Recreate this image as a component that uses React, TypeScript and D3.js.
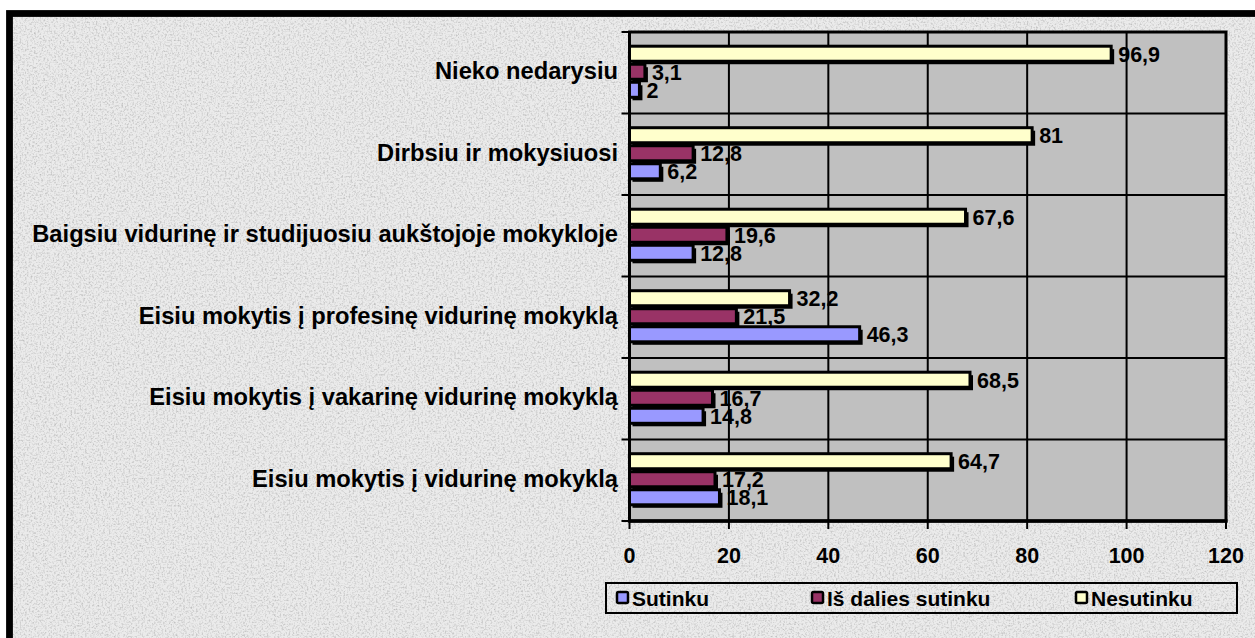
import React from "react";
import * as d3 from "d3";

const categories = [
  "Nieko nedarysiu",
  "Dirbsiu ir mokysiuosi",
  "Baigsiu vidurinę ir studijuosiu aukštojoje mokykloje",
  "Eisiu mokytis į profesinę vidurinę mokyklą",
  "Eisiu mokytis į vakarinę vidurinę mokyklą",
  "Eisiu mokytis į vidurinę mokyklą",
];
const sutinku = [2, 6.2, 12.8, 46.3, 14.8, 18.1];
const isDaliesSutinku = [3.1, 12.8, 19.6, 21.5, 16.7, 17.2];
const nesutinku = [96.9, 81, 67.6, 32.2, 68.5, 64.7];
const seriesNames = ["Sutinku", "Iš dalies sutinku", "Nesutinku"];
const seriesColors = ["#9999ff", "#993366", "#ffffcc"];
const xTicks = [0, 20, 40, 60, 80, 100, 120];

const W = 1255;
const H = 638;
const FONT = "'Liberation Sans', Arial, sans-serif";

export default function App() {
  const plot = { left: 629.5, right: 1226, top: 32, bottom: 521 };
  const x = d3.scaleLinear().domain([0, 120]).range([plot.left, plot.right]);
  const y = d3.scaleBand<string>().domain(categories).range([plot.top, plot.bottom]).padding(0);
  const drawOrder = ["Nesutinku", "Iš dalies sutinku", "Sutinku"];
  const inner = d3
    .scaleBand<string>()
    .domain(drawOrder)
    .range([0, y.bandwidth()])
    .paddingInner(0)
    .paddingOuter(0.76);
  const seriesValues: Record<string, number[]> = {
    Sutinku: sutinku,
    "Iš dalies sutinku": isDaliesSutinku,
    Nesutinku: nesutinku,
  };
  const colorOf = (s: string) => seriesColors[seriesNames.indexOf(s)];
  const fmt = (v: number) => String(v).replace(".", ",");
  const boundaries = d3.range(categories.length + 1).map((i) => plot.top + i * y.step());

  const bars: React.ReactNode[] = [];
  const labels: React.ReactNode[] = [];
  categories.forEach((c, ci) => {
    drawOrder.forEach((s) => {
      const v = seriesValues[s][ci];
      const by = (y(c) as number) + (inner(s) as number) + 0.5;
      const bh = inner.bandwidth() - 3;
      const bx = x(0);
      const bw = x(v) - x(0);
      bars.push(
        <g key={`${c}-${s}`}>
          <rect x={bx + 3} y={by + 3} width={bw} height={bh} fill="#000" />
          <rect x={bx} y={by} width={bw} height={bh} fill={colorOf(s)} stroke="#000" strokeWidth={3} />
        </g>
      );
      labels.push(
        <text
          key={`l-${c}-${s}`}
          x={x(v) + 7}
          y={by + bh / 2 + 1}
          dominantBaseline="central"
          fontFamily={FONT}
          fontWeight="bold"
          fontSize={21.5}
          fill="#000"
        >
          {fmt(v)}
        </text>
      );
    });
  });

  const legendItems = [
    { name: seriesNames[0], mx: 617 },
    { name: seriesNames[1], mx: 812 },
    { name: seriesNames[2], mx: 1076 },
  ];

  return (
    <svg
      width={W}
      height={H}
      style={{ position: "absolute", left: 0, top: 0, background: "#fff" }}
    >
      <defs>
        <filter id="tex" x="0" y="0" width="100%" height="100%" filterUnits="objectBoundingBox">
          <feTurbulence type="fractalNoise" baseFrequency="0.55" numOctaves={2} seed={4} result="n" />
          <feColorMatrix
            in="n"
            type="matrix"
            values="0 0 0 0 0.5  0 0 0 0 0.5  0 0 0 0 0.5  2.2 0 0 0 -1.0"
          />
        </filter>
      </defs>
      <rect x={0} y={0} width={W} height={H} fill="#fff" />
      <rect x={9.5} y={13.5} width={W + 50} height={H + 50} fill="#ebebeb" />
      <rect x={9.5} y={13.5} width={W + 50} height={H + 50} fill="#888" filter="url(#tex)" />
      <rect x={9.5} y={13.5} width={W + 50} height={H + 50} fill="none" stroke="#000" strokeWidth={6.8} />

      {/* plot area */}
      <rect x={plot.left} y={plot.top} width={plot.right - plot.left} height={plot.bottom - plot.top} fill="#c0c0c0" />
      {xTicks.slice(1, -1).map((t) => (
        <line key={`g${t}`} x1={x(t)} x2={x(t)} y1={plot.top} y2={plot.bottom} stroke="#000" strokeWidth={2} />
      ))}
      {boundaries.slice(1, -1).map((b, i) => (
        <line key={`h${i}`} x1={plot.left} x2={plot.right} y1={b} y2={b} stroke="#000" strokeWidth={2} />
      ))}
      {bars}
      <rect
        x={plot.left}
        y={plot.top}
        width={plot.right - plot.left}
        height={plot.bottom - plot.top}
        fill="none"
        stroke="#000"
        strokeWidth={3}
      />
      <line x1={plot.left - 1} x2={plot.right + 1.5} y1={plot.bottom} y2={plot.bottom} stroke="#000" strokeWidth={3.5} />
      {boundaries.map((b, i) => (
        <line key={`yt${i}`} x1={plot.left - 8} x2={plot.left} y1={b} y2={b} stroke="#000" strokeWidth={2} />
      ))}
      {xTicks.map((t) => (
        <line key={`xt${t}`} x1={x(t)} x2={x(t)} y1={plot.bottom} y2={plot.bottom + 8} stroke="#000" strokeWidth={2} />
      ))}
      {labels}

      {/* y labels */}
      {categories.map((c) => (
        <text
          key={`yl-${c}`}
          x={618}
          y={(y(c) as number) + y.bandwidth() / 2 - 1.5}
          textAnchor="end"
          dominantBaseline="central"
          fontFamily={FONT}
          fontWeight="bold"
          fontSize={23.7}
          fill="#000"
        >
          {c}
        </text>
      ))}

      {/* x labels */}
      {xTicks.map((t) => (
        <text
          key={`xl${t}`}
          x={x(t)}
          y={563}
          textAnchor="middle"
          fontFamily={FONT}
          fontWeight="bold"
          fontSize={21.5}
          fill="#000"
        >
          {t}
        </text>
      ))}

      {/* legend */}
      <rect x={606} y={583} width={631} height={30} fill="none" stroke="#000" strokeWidth={2} />
      {legendItems.map((it, i) => (
        <g key={`lg${i}`}>
          <rect x={it.mx} y={592} width={11} height={11} rx={1.5} fill={colorOf(it.name)} stroke="#000" strokeWidth={2.5} />
          <text
            x={it.mx + 15}
            y={598}
            dominantBaseline="central"
            fontFamily={FONT}
            fontWeight="bold"
            fontSize={21}
            fill="#000"
          >
            {it.name}
          </text>
        </g>
      ))}
    </svg>
  );
}
